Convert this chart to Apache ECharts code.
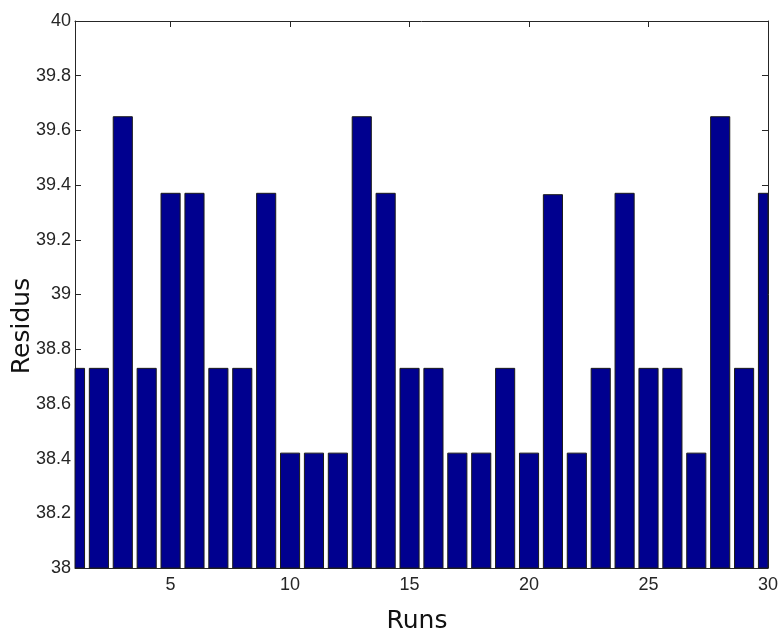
<!DOCTYPE html>
<html>
<head>
<meta charset="utf-8">
<script src="https://cdn.jsdelivr.net/npm/echarts@6/dist/echarts.min.js"></script>
<style>
  html, body { margin: 0; padding: 0; background: #ffffff; }
  #chart { width: 781px; height: 632px; }
</style>
</head>
<body>
<div id="chart"></div>
<script>
// runs on the x axis, residual per run
var runs = [1, 2, 3, 4, 5, 6, 7, 8, 9, 10, 11, 12, 13, 14, 15,
            16, 17, 18, 19, 20, 21, 22, 23, 24, 25, 26, 27, 28, 29, 30];
var residus = [38.73, 38.73, 39.65, 38.73, 39.37, 39.37, 38.73, 38.73, 39.37, 38.42,
               38.42, 38.42, 39.65, 39.37, 38.73, 38.73, 38.42, 38.42, 38.73, 38.42,
               39.365, 38.42, 38.73, 39.37, 38.73, 38.73, 38.42, 39.65, 38.73, 39.37];
var xTicks = [5, 10, 15, 20, 25, 30];
var yMin = 38, yMax = 40;
var barRatio = 0.8; // bar width in x units

var axisColor = "#262626";
var tickFont = { color: "#262626", fontFamily: "Liberation Sans", fontSize: 18 };

var chart = echarts.init(document.getElementById("chart"));

// bars drawn by hand so they get cut at the plot frame like the original
function renderBar(params, api) {
  var x = api.value(0);
  var top = api.coord([x, api.value(1)]);
  var base = api.coord([x, yMin]);
  var w = api.size([barRatio, 0])[0];
  var cs = params.coordSys;
  var shape = echarts.graphic.clipRectByRect(
    { x: top[0] - w / 2, y: top[1], width: w, height: base[1] - top[1] },
    { x: cs.x, y: cs.y, width: cs.width, height: cs.height }
  );
  if (!shape) return;
  return {
    type: "rect",
    shape: shape,
    style: { fill: "#00008f", stroke: "#1a1a1a", lineWidth: 1 }
  };
}

var option = {
  animation: false,
  grid: { left: 75, right: 12, top: 21, bottom: 64 },
  xAxis: [
    {
      type: "value",
      min: 1,
      max: 30,
      splitLine: { show: false },
      axisLine: { lineStyle: { color: axisColor, width: 1 } },
      axisTick: { inside: true, length: 6, customValues: xTicks, lineStyle: { color: axisColor } },
      axisLabel: Object.assign({ customValues: xTicks, margin: 8 }, tickFont)
    },
    {
      type: "value",
      position: "top",
      min: 1,
      max: 30,
      splitLine: { show: false },
      axisLine: { lineStyle: { color: axisColor, width: 1 } },
      axisTick: { inside: true, length: 6, customValues: xTicks, lineStyle: { color: axisColor } },
      axisLabel: { show: false }
    }
  ],
  yAxis: [
    {
      type: "value",
      min: yMin,
      max: yMax,
      interval: 0.2,
      splitLine: { show: false },
      axisLine: { show: true, lineStyle: { color: axisColor, width: 1 } },
      axisTick: { show: true, inside: true, length: 6, lineStyle: { color: axisColor } },
      axisLabel: Object.assign({ margin: 4 }, tickFont)
    },
    {
      type: "value",
      position: "right",
      min: yMin,
      max: yMax,
      interval: 0.2,
      splitLine: { show: false },
      axisLine: { show: true, lineStyle: { color: axisColor, width: 1 } },
      axisTick: { show: true, inside: true, length: 6, lineStyle: { color: axisColor } },
      axisLabel: { show: false }
    }
  ],
  graphic: [
    {
      type: "text",
      x: 417,
      y: 621,
      style: {
        text: "Runs",
        fill: "#111",
        font: "25px 'DejaVu Sans'",
        textAlign: "center",
        textVerticalAlign: "middle"
      }
    },
    {
      type: "text",
      x: 22,
      y: 326,
      rotation: Math.PI / 2,
      style: {
        text: "Residus",
        fill: "#111",
        font: "25px 'DejaVu Sans'",
        textAlign: "center",
        textVerticalAlign: "middle"
      }
    }
  ],
  series: [
    {
      type: "custom",
      xAxisIndex: 0,
      yAxisIndex: 0,
      renderItem: renderBar,
      encode: { x: 0, y: 1 },
      data: runs.map(function (r, i) { return [r, residus[i]]; })
    }
  ]
};

chart.setOption(option);
</script>
</body>
</html>
